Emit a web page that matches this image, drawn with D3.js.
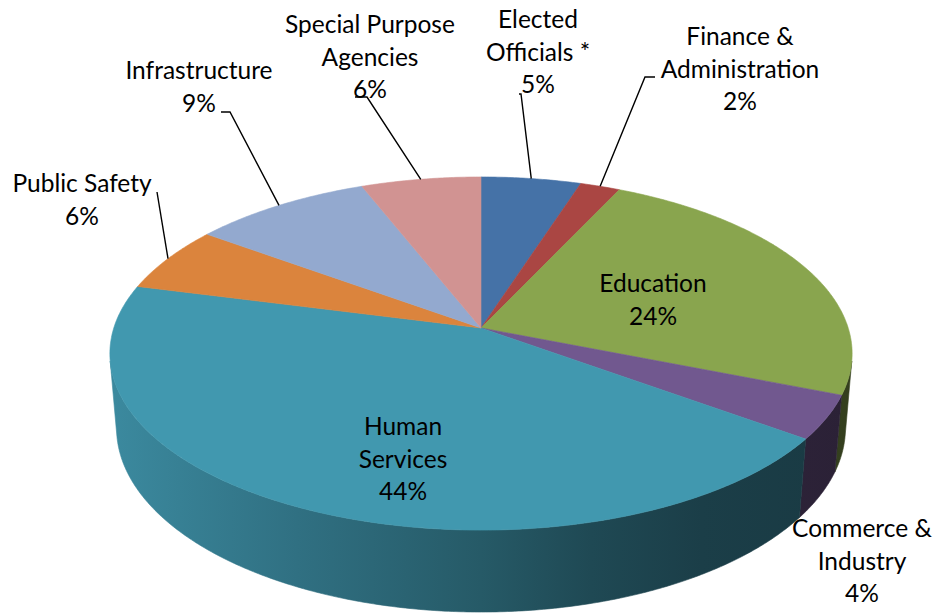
<!DOCTYPE html>
<html>
<head>
<meta charset="utf-8">
<script src="https://cdn.jsdelivr.net/npm/d3@7"></script>
<style>
  body { margin: 0; background: #fff; }
  svg { display: block; }
  text { font-family: Lato, "Open Sans", sans-serif; font-size: 24.5px; fill: #000; }
</style>
</head>
<body>
<svg id="chart" width="935" height="615"></svg>
<script>
// Budget share by function (percent of total)
const categories = [
  "Elected Officials *", "Finance & Administration", "Education", "Commerce & Industry",
  "Human Services", "Public Safety", "Infrastructure", "Special Purpose Agencies"
];
const shares = [5, 2, 24, 4, 44, 6, 9, 6];
const sliceColors = ["#4572A7", "#AA4643", "#89A54E", "#71588F", "#4198AF", "#DB843D", "#93A9CF", "#D19392"];
// Label text split into lines (the percentage is appended as the last line)
const labelLines = [
  ["Elected", "Officials *"], ["Finance &", "Administration"], ["Education"], ["Commerce &", "Industry"],
  ["Human", "Services"], ["Public Safety"], ["Infrastructure"], ["Special Purpose", "Agencies"]
];
// Label placement: centre x, first baseline, and the label end of the leader line (if any)
const labelLayout = [
  { x: 538, y: 28,  leader: [[519, 94], [521, 94]] },
  { x: 740, y: 45,  leader: [[655, 77], [645, 77]] },
  { x: 653, y: 292, leader: null },
  { x: 862, y: 537, leader: null },
  { x: 403, y: 435, leader: null },
  { x: 82,  y: 192, leader: [[157, 192]] },
  { x: 199, y: 79,  leader: [[221, 112], [230, 112]] },
  { x: 370, y: 33,  leader: [[355, 97], [367, 97]] }
];
const lineHeight = 32.5;

// Perspective view of a unit disc lying flat, seen from above and in front
const view = { cx: 481, cy: 328, f: 2240, D: 6.10, tilt: Math.asin(0.4708), depth: 0.232 };
const sT = Math.sin(view.tilt), cT = Math.cos(view.tilt);
function project(theta, r, z) {
  const x = r * Math.sin(theta), y = r * Math.cos(theta);
  const v = y * sT + z * cT, w = view.D + y * cT - z * sT;
  return [view.cx + view.f * x / w, view.cy - view.f * v / w];
}
// the rim faces the camera where cos(theta) < -1/(D cos tilt)
const rimLimit = Math.acos(-1 / (view.D * cT));
const visFrom = rimLimit, visTo = 2 * Math.PI - rimLimit;

const svg = d3.select("#chart");
const defs = svg.append("defs");
const pie = d3.pie().sort(null).value(d => d);
const arcs = pie(shares);
const line = d3.line();
const step = Math.PI / 360;

function sampleAngles(a0, a1) {
  const n = Math.max(2, Math.ceil((a1 - a0) / step));
  return d3.range(n + 1).map(i => a0 + (a1 - a0) * i / n);
}

// Horizontal shading of the side wall: lighter on the left, darker on the right
const xLeft = project(-Math.PI / 2, 1, 0)[0], xRight = project(Math.PI / 2, 1, 0)[0];
const shadeStops = [[0, 0.9], [0.25, 0.74], [0.5, 0.59], [0.65, 0.48], [0.8, 0.41], [1, 0.38]];

// Side walls
const sides = svg.append("g");
arcs.forEach((a, i) => {
  const a0 = Math.max(a.startAngle, visFrom), a1 = Math.min(a.endAngle, visTo);
  if (a1 <= a0) return;
  const base = d3.rgb(sliceColors[i]);
  const gid = "side-" + i;
  const g = defs.append("linearGradient").attr("id", gid)
    .attr("gradientUnits", "userSpaceOnUse")
    .attr("x1", xLeft).attr("y1", 0).attr("x2", xRight).attr("y2", 0);
  shadeStops.forEach(([u, k]) => {
    g.append("stop").attr("offset", u)
      .attr("stop-color", d3.rgb(base.r * k, base.g * k, base.b * k).formatHex());
  });
  const ths = sampleAngles(a0, a1);
  const pts = ths.map(t => project(t, 1, 0))
    .concat(ths.slice().reverse().map(t => project(t, 1, -view.depth)));
  sides.append("path").attr("d", line(pts) + "Z")
    .attr("fill", `url(#${gid})`).attr("stroke", `url(#${gid})`).attr("stroke-width", 0.6);
});

// Top faces
const tops = svg.append("g");
arcs.forEach((a, i) => {
  const pts = [project(0, 0, 0)].concat(sampleAngles(a.startAngle, a.endAngle).map(t => project(t, 1, 0)));
  tops.append("path").attr("d", line(pts) + "Z")
    .attr("fill", sliceColors[i]).attr("stroke", sliceColors[i]).attr("stroke-width", 0.6)
    .attr("stroke-linejoin", "round");
});

// Leader lines and labels
const labels = svg.append("g");
arcs.forEach((a, i) => {
  const lay = labelLayout[i];
  if (lay.leader) {
    const mid = (a.startAngle + a.endAngle) / 2;
    const pts = lay.leader.concat([project(mid, 1, 0)]);
    labels.append("path").attr("d", line(pts))
      .attr("fill", "none").attr("stroke", "#000").attr("stroke-width", 1.4);
  }
  const t = labels.append("text").attr("text-anchor", "middle");
  labelLines[i].concat([shares[i] + "%"]).forEach((s, j) => {
    t.append("tspan").attr("x", lay.x).attr("y", lay.y + j * lineHeight).text(s);
  });
});
</script>
</body>
</html>
